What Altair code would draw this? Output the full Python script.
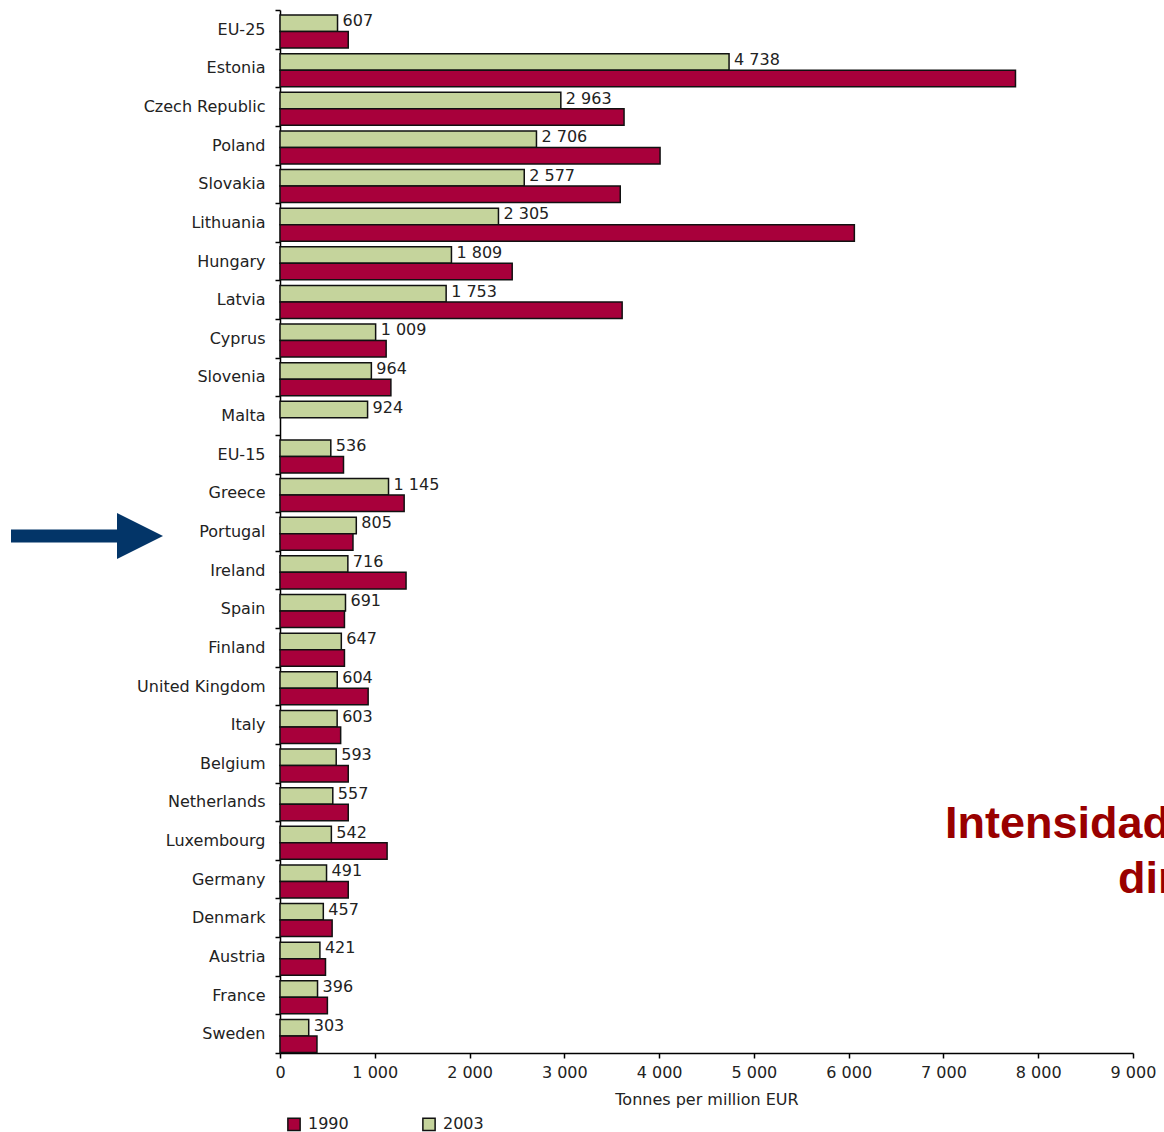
import altair as alt
import pandas as pd

countries = ["EU-25", "Estonia", "Czech Republic", "Poland", "Slovakia", "Lithuania",
             "Hungary", "Latvia", "Cyprus", "Slovenia", "Malta", "EU-15", "Greece",
             "Portugal", "Ireland", "Spain", "Finland", "United Kingdom", "Italy",
             "Belgium", "Netherlands", "Luxembourg", "Germany", "Denmark", "Austria",
             "France", "Sweden"]
v2003 = [607, 4738, 2963, 2706, 2577, 2305, 1809, 1753, 1009, 964, 924, 536, 1145,
         805, 716, 691, 647, 604, 603, 593, 557, 542, 491, 457, 421, 396, 303]
v1990 = [720, 7760, 3630, 4010, 3590, 6060, 2450, 3610, 1120, 1170, None, 670, 1310,
         770, 1330, 680, 680, 930, 640, 720, 720, 1130, 720, 550, 480, 500, 390]
years = ["1990", "2003"]
colors = ["#A8003B", "#C5D49C"]
x_ticks = [0, 1000, 2000, 3000, 4000, 5000, 6000, 7000, 8000, 9000]
title_lines = ["Intensidade material", "directa"]

rows = []
for c, a, b in zip(countries, v2003, v1990):
    rows.append({"country": c, "year": "2003", "value": a,
                 "label": f"{a:,}".replace(",", " ")})
    if b is not None:
        rows.append({"country": c, "year": "1990", "value": b, "label": ""})
df = pd.DataFrame(rows)

FONT = "DejaVu Sans"
one = pd.DataFrame({"k": [0]})

y_enc = alt.Y("country:N", sort=countries, title=None,
              scale=alt.Scale(paddingInner=0, paddingOuter=0),
              axis=alt.Axis(tickBand="extent", tickSize=5, labelPadding=10,
                            labelFontSize=16, labelFont=FONT, labelColor="#222",
                            domainColor="#000", tickColor="#000", domainWidth=1.5,
                            tickWidth=1.5, labelLimit=300))
yoff_enc = alt.YOffset("year:N", sort=["2003", "1990"],
                       scale=alt.Scale(paddingInner=0, paddingOuter=0.17, align=0.9))
x_enc = alt.X("value:Q", title="Tonnes per million EUR",
              scale=alt.Scale(domain=[0, 9000], nice=False),
              axis=alt.Axis(values=x_ticks, tickSize=5, labelPadding=6, labelFlush=False,
                            labelExpr="replace(format(datum.value, ','), ',', ' ')",
                            labelFontSize=16, labelFont=FONT, labelColor="#222",
                            titleFontSize=16, titleFont=FONT, titleColor="#222",
                            titleFontWeight="normal", titlePadding=11,
                            domainColor="#000", tickColor="#000", domainWidth=1.5,
                            tickWidth=1.5, grid=False))

bars = alt.Chart(df).mark_bar(stroke="#111", strokeWidth=1.5).encode(
    x=x_enc, y=y_enc, yOffset=yoff_enc,
    color=alt.Color("year:N", sort=years,
                    scale=alt.Scale(domain=years, range=colors),
                    legend=alt.Legend(title=None, orient="none", direction="horizontal",
                                      legendX=6, legendY=1106, symbolType="square",
                                      symbolSize=150, symbolStrokeColor="#111",
                                      symbolStrokeWidth=1.5, symbolOpacity=1,
                                      labelFontSize=16, labelFont=FONT,
                                      labelColor="#222", columnPadding=70,
                                      labelOffset=6)),
)

labels = alt.Chart(df).transform_filter(alt.datum.year == "2003").mark_text(
    align="left", baseline="middle", dx=5, dy=-2, fontSize=16, font=FONT, color="#222"
).encode(x="value:Q", y=alt.Y("country:N", sort=countries), yOffset=yoff_enc,
         text="label:N")

navy = "#033568"
shaft = alt.Chart(one).mark_rule(color=navy, strokeWidth=13, strokeCap="butt").encode(
    x=alt.value(-269), x2=alt.value(-161), y=alt.value(526))
head = alt.Chart(one).mark_point(
    shape="M-1,-1L1,0L-1,1Z", filled=True, color=navy, opacity=1, size=2116
).encode(x=alt.value(-140), y=alt.value(526))

t1 = alt.Chart(one).mark_text(
    align="left", baseline="alphabetic", font="Liberation Sans", fontWeight="bold",
    fontSize=45, color="#990000", text=title_lines[0]
).encode(x=alt.value(665), y=alt.value(828))
t2 = alt.Chart(one).mark_text(
    align="left", baseline="alphabetic", font="Liberation Sans", fontWeight="bold",
    fontSize=45, color="#990000", text=title_lines[1]
).encode(x=alt.value(838), y=alt.value(883))

chart = alt.layer(bars, labels, shaft, head, t1, t2).properties(
    width=853, height=1043,
    autosize=alt.AutoSizeParams(type="none"),
    padding={"left": 280, "top": 10, "right": 31, "bottom": 79},
    background="white",
).configure_view(stroke=None)

chart.save("out.html", embed_options={"renderer": "svg", "actions": False})
